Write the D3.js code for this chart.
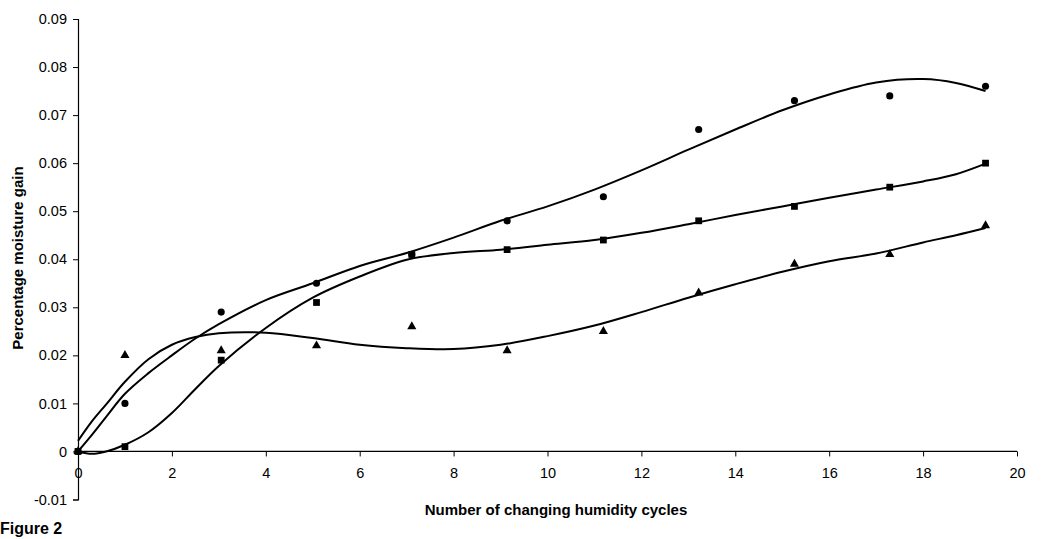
<!DOCTYPE html>
<html>
<head>
<meta charset="utf-8">
<script src="https://cdn.jsdelivr.net/npm/d3@7"></script>
<style>
  html, body { margin: 0; padding: 0; background: #fff; }
  svg { display: block; }
  text { font-family: "Liberation Sans", Arial, sans-serif; fill: #000; }
</style>
</head>
<body>
<svg id="chart" width="1046" height="539"></svg>
<script>
// Humidity cycles at which moisture gain was measured
const cycles = [0, 1, 3.05, 5.08, 7.11, 9.14, 11.19, 13.22, 15.26, 17.29, 19.33];
// Percentage moisture gain for the three sample sets
const gainCircle   = [0, 0.010, 0.029, 0.035, 0.041, 0.048, 0.053, 0.067, 0.073, 0.074, 0.076];
const gainSquare   = [0, 0.001, 0.019, 0.031, 0.041, 0.042, 0.044, 0.048, 0.051, 0.055, 0.060];
const gainTriangle = [0, 0.020, 0.021, 0.022, 0.026, 0.021, 0.025, 0.033, 0.039, 0.041, 0.047];

// Polynomial trendlines, sampled along the cycle axis
const trendCycles   = [0, 0.3, 0.6, 1, 1.5, 2, 2.5, 3, 4, 5, 6, 7, 8, 9, 10, 11, 12, 13, 14, 15, 16, 17, 18, 18.7, 19.33];
const trendCircle   = [0, 0.0035, 0.0072, 0.012, 0.0163, 0.0200, 0.0235, 0.0265, 0.0315, 0.0350, 0.0386, 0.0413, 0.0445, 0.0480, 0.0510, 0.0545, 0.0585, 0.0628, 0.0670, 0.0710, 0.0743, 0.0768, 0.0775, 0.0767, 0.0750];
const trendSquare   = [0, -0.0005, 0, 0.0014, 0.0040, 0.0080, 0.0130, 0.0178, 0.0257, 0.0320, 0.0364, 0.0399, 0.0413, 0.0420, 0.0430, 0.0440, 0.0455, 0.0473, 0.0492, 0.0510, 0.0528, 0.0545, 0.0562, 0.0577, 0.0599];
const trendTriangle = [0.0022, 0.0063, 0.0098, 0.0145, 0.0192, 0.0222, 0.0238, 0.0246, 0.0247, 0.0236, 0.0222, 0.0215, 0.0213, 0.0222, 0.0240, 0.0262, 0.0290, 0.0320, 0.0348, 0.0374, 0.0396, 0.0412, 0.0435, 0.0450, 0.0465];

// Axis ticks
const xTicks = [0, 2, 4, 6, 8, 10, 12, 14, 16, 18, 20];
const yTicks = [-0.01, 0, 0.01, 0.02, 0.03, 0.04, 0.05, 0.06, 0.07, 0.08, 0.09];

const svg = d3.select("#chart");

const x = d3.scaleLinear().domain([0, 20]).range([78, 1017]);
const y = d3.scaleLinear().domain([-0.01, 0.09]).range([499.5, 19]);

const series = [
  {values: gainCircle, trend: trendCircle, shape: d3.symbolCircle, size: 40},
  {values: gainTriangle, trend: trendTriangle, shape: d3.symbolTriangle, size: 36},
  {values: gainSquare, trend: trendSquare, shape: d3.symbolSquare, size: 46}
];

// Axes
const xAxis = svg.append("g")
  .attr("transform", `translate(0,${y(0)})`)
  .call(d3.axisBottom(x).tickValues(xTicks).tickSize(5).tickPadding(11).tickFormat(d3.format("d")));
const yAxis = svg.append("g")
  .attr("transform", `translate(${x(0)},0)`)
  .call(d3.axisLeft(y).tickValues(yTicks).tickSize(5).tickPadding(6)
        .tickFormat(d => d === 0 ? "0" : d.toFixed(2)));

[xAxis, yAxis].forEach(g => {
  g.select(".domain").attr("stroke", "#000").attr("stroke-width", 1.2);
  g.selectAll(".tick line").attr("stroke", "#000").attr("stroke-width", 1);
  g.selectAll(".tick text").attr("font-size", 14.5).attr("font-family", "Liberation Sans, Arial, sans-serif").attr("fill", "#000");
});
xAxis.select(".domain").attr("d", `M${x(0)},0H${x(20)}`);

// Trendlines
const line = d3.line()
  .x(d => x(d[0]))
  .y(d => y(d[1]))
  .curve(d3.curveCatmullRom.alpha(0.5));
series.forEach(s => {
  svg.append("path")
    .attr("d", line(trendCycles.map((c, i) => [c, s.trend[i]])))
    .attr("fill", "none")
    .attr("stroke", "#000")
    .attr("stroke-width", 2);
});

// Data markers
series.forEach(s => {
  svg.append("g").selectAll("path")
    .data(cycles.map((c, i) => [c, s.values[i]]))
    .join("path")
    .attr("transform", d => `translate(${x(d[0])},${y(d[1])})`)
    .attr("d", d3.symbol().type(s.shape).size(s.size))
    .attr("fill", "#000");
});

// Axis titles
svg.append("text")
  .attr("x", 556).attr("y", 515)
  .attr("text-anchor", "middle")
  .attr("font-size", 15).attr("font-weight", "bold")
  .text("Number of changing humidity cycles");

svg.append("text")
  .attr("transform", "translate(23,258) rotate(-90)")
  .attr("text-anchor", "middle")
  .attr("font-size", 15).attr("font-weight", "bold")
  .text("Percentage moisture gain");

svg.append("text")
  .attr("x", 0).attr("y", 534)
  .attr("font-size", 16).attr("font-weight", "bold")
  .text("Figure 2");
</script>
</body>
</html>
